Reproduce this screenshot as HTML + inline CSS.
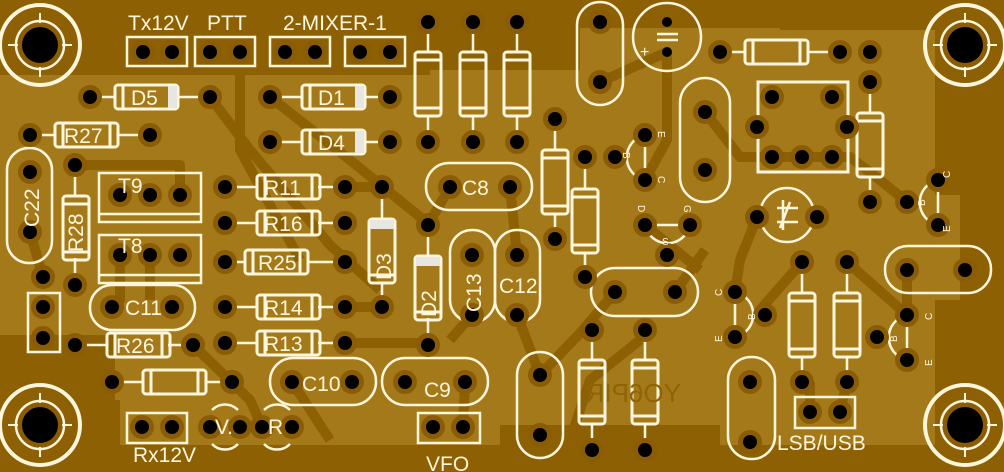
<!DOCTYPE html>
<html><head><meta charset="utf-8">
<style>
html,body{margin:0;padding:0;background:#a47919;}
svg{display:block}
text{font-family:"Liberation Sans",sans-serif;fill:#fff6dc}
</style></head>
<body>
<svg width="1004" height="472" viewBox="0 0 1004 472" xmlns="http://www.w3.org/2000/svg">
<defs>
<g id="p"><circle r="12" fill="#8a5c05"/><circle r="7" fill="#000"/></g>
<g id="sp"><circle r="5" fill="#000"/></g>
<g id="hole"><circle r="40" fill="none" stroke="#fff6dc" stroke-width="4"/><circle r="24" fill="#8a5c05" stroke="#fff6dc" stroke-width="2.5"/><circle r="18" fill="#000"/>
<path d="M0 -32V-22M0 22V32M-32 0H-22M22 0H32" stroke="#fff6dc" stroke-width="2"/></g>
<g id="rh"><rect x="0" y="0" width="63" height="24" rx="3" fill="none" stroke="#fff6dc" stroke-width="3"/><path d="M8 0V24M55 0V24" stroke="#fff6dc" stroke-width="3"/></g>
<g id="rv"><rect x="0" y="0" width="26" height="64" rx="3" fill="none" stroke="#fff6dc" stroke-width="3"/><path d="M0 8H26M0 56H26" stroke="#fff6dc" stroke-width="3"/></g>
</defs>
<rect width="1004" height="472" fill="#a47919"/>
<path d="M0 0H560V10H580V70H430V75H0Z" fill="#8d6003"/>
<path d="M560 0H1004V225H935V30H780V28H560Z" fill="#8d6003"/>
<path d="M935 130H1004V472H935Z" fill="#8d6003"/>
<path d="M0 335H115V400H120V472H0Z" fill="#8d6003"/>
<path d="M0 445H1004V472H0Z" fill="#8d6003"/>
<path d="M500 425H720V472H500Z" fill="#8d6003"/>
<path d="M935 195H960V300H930Z" fill="#a47919"/>
<g stroke="#8d6003" stroke-width="10" fill="none" stroke-linejoin="round">
<path d="M210 97L250 150L330 245L380 290"/><path d="M240 52V150L300 260"/>
<path d="M75 165H180V195"/><path d="M270 97L350 160L430 225"/>
<path d="M150 255V300M120 255V300L112 307"/><path d="M30 232L43 277"/>
<path d="M342 187L380 187"/><path d="M342 307H383"/><path d="M342 343H428"/>
<path d="M472 315L450 340"/><path d="M517 315L540 375"/><path d="M510 187L517 255"/>
<path d="M450 187L428 225"/><path d="M600 82L667 52"/><path d="M667 52V140L645 180"/>
<path d="M705 112L740 157H850L880 180L907 202"/><path d="M645 225L700 270"/>
<path d="M757 217L740 260L735 292"/><path d="M802 262L760 310"/><path d="M847 262L907 315"/>
<path d="M540 375L583 330L615 292"/><path d="M675 292L705 250"/>
<path d="M810 382V412M847 382L840 412"/><path d="M907 270V315"/>
<path d="M193 345L250 400L262 427"/><path d="M292 382L330 440"/><path d="M465 382L463 427"/>
<path d="M570 440L590 380L640 340"/>
</g>
<use href="#hole" x="40" y="45"/><use href="#hole" x="965" y="45"/>
<use href="#hole" x="40" y="425"/><use href="#hole" x="965" y="425"/>
<g fill="none" stroke="#fff6dc" stroke-width="2.5">
<rect x="127" y="37" width="60" height="29"/><rect x="195" y="37" width="60" height="29"/>
<rect x="270" y="37" width="60" height="29"/><rect x="345" y="37" width="60" height="29"/>
<rect x="28" y="293" width="32" height="59"/>
<rect x="127" y="413" width="60" height="30"/><rect x="418" y="413" width="62" height="30"/>
<rect x="795" y="397" width="60" height="31"/>
<rect x="99" y="173" width="102" height="49"/><path d="M99 214H201"/>
<rect x="99" y="235" width="102" height="48"/><path d="M99 275H201"/>
<rect x="7" y="148" width="45" height="115" rx="22"/>
<rect x="90" y="285" width="105" height="45" rx="22"/>
<rect x="270" y="358" width="106" height="47" rx="23"/>
<rect x="382" y="358" width="106" height="47" rx="23"/>
<rect x="426" y="163" width="106" height="47" rx="23"/>
<rect x="450" y="230" width="45" height="92" rx="22"/>
<rect x="495" y="230" width="45" height="92" rx="22"/>
<rect x="591" y="268" width="107" height="48" rx="24"/>
<rect x="577" y="2" width="46" height="103" rx="23"/>
<rect x="680" y="78" width="50" height="124" rx="25"/>
<rect x="517" y="352" width="46" height="106" rx="23"/>
<rect x="728" y="357" width="47" height="102" rx="23"/>
<rect x="885" y="246" width="106" height="47" rx="23"/>
<circle cx="667" cy="37" r="34"/>
<circle cx="787" cy="215" r="27"/>
<rect x="758" y="82" width="90" height="90" stroke-width="3"/>
<path d="M645 135A23 23 0 0 0 645 180M645 135V180"/>
<path d="M938 180A23 23 0 0 0 938 225M938 180V225"/>
<path d="M735 292A23 23 0 0 1 735 337M735 292V337"/>
<path d="M907 315A23 23 0 0 0 907 360M907 315V360"/>
<path d="M645 225A23 23 0 0 0 690 225M645 225H690"/>
<path d="M212 410A18 18 0 0 1 238 410M212 444A18 18 0 0 0 238 444"/>
<path d="M264 410A18 18 0 0 1 290 410M264 444A18 18 0 0 0 290 444"/>
<path d="M657 34H678M657 40H678M790 202L780 228M777 208H798M777 222H798M783 200V230"/>
<path d="M90 97H115M178 97H210M270 97H302M363 97H390M270 142H302M363 142H390M30 135H55M118 135H150"/>
<path d="M225 187H257M318 187H345M225 223H257M318 223H345M225 262H245M307 262H345M225 307H257M318 307H345M225 343H257M318 343H345"/>
<path d="M75 345H107M168 345H193M112 382H143M205 382H232M720 52H745M808 52H840"/>
<path d="M75 165V197M75 258V285M382 187V220M382 282V307M428 225V258M428 318V345"/>
<path d="M428 22V52M428 116V142M473 22V52M473 116V142M517 22V52M517 116V142"/>
<path d="M555 119V150M555 213V239M585 157V190M585 252V277M870 82V113M870 176V202"/>
<path d="M592 330V360M592 424V450M645 330V360M645 424V450M802 262V293M802 357V382M847 262V293M847 357V382"/>
</g>
<use href="#rh" x="115" y="85"/><use href="#rh" x="302" y="85"/><use href="#rh" x="302" y="130"/>
<use href="#rh" x="55" y="123"/><use href="#rh" x="257" y="175"/><use href="#rh" x="257" y="211"/>
<use href="#rh" x="245" y="250"/><use href="#rh" x="257" y="295"/><use href="#rh" x="257" y="331"/>
<use href="#rh" x="107" y="333"/><use href="#rh" x="143" y="370"/><use href="#rh" x="745" y="40"/>
<use href="#rv" x="63" y="196"/><use href="#rv" x="369" y="219"/><use href="#rv" x="415" y="256"/>
<use href="#rv" x="415" y="52"/><use href="#rv" x="460" y="52"/><use href="#rv" x="504" y="52"/>
<use href="#rv" x="542" y="150"/><use href="#rv" x="572" y="189"/><use href="#rv" x="857" y="113"/>
<use href="#rv" x="579" y="360"/><use href="#rv" x="632" y="360"/><use href="#rv" x="789" y="293"/><use href="#rv" x="834" y="293"/>
<g fill="#e8e6e0"><rect x="168" y="86" width="9" height="22"/><rect x="355" y="86" width="9" height="22"/><rect x="355" y="131" width="9" height="22"/>
<rect x="370" y="220" width="24" height="9"/><rect x="416" y="257" width="24" height="9"/></g>
<g>
<use href="#p" x="143" y="52"/><use href="#p" x="172" y="52"/><use href="#p" x="210" y="52"/><use href="#p" x="240" y="52"/>
<use href="#p" x="285" y="52"/><use href="#p" x="315" y="52"/><use href="#p" x="360" y="52"/><use href="#p" x="390" y="52"/>
<use href="#p" x="90" y="97"/><use href="#p" x="210" y="97"/><use href="#p" x="270" y="97"/><use href="#p" x="390" y="97"/>
<use href="#p" x="270" y="142"/><use href="#p" x="390" y="142"/><use href="#p" x="30" y="135"/><use href="#p" x="150" y="135"/>
<use href="#p" x="30" y="172"/><use href="#p" x="30" y="232"/><use href="#p" x="75" y="165"/><use href="#p" x="75" y="285"/><use href="#p" x="43" y="277"/>
<use href="#p" x="120" y="195"/><use href="#p" x="150" y="195"/><use href="#p" x="180" y="195"/>
<use href="#p" x="120" y="255"/><use href="#p" x="150" y="255"/><use href="#p" x="180" y="255"/>
<use href="#p" x="225" y="187"/><use href="#p" x="345" y="187"/><use href="#p" x="225" y="223"/><use href="#p" x="345" y="223"/>
<use href="#p" x="225" y="262"/><use href="#p" x="345" y="262"/><use href="#p" x="225" y="307"/><use href="#p" x="345" y="307"/>
<use href="#p" x="225" y="343"/><use href="#p" x="345" y="343"/><use href="#p" x="382" y="187"/><use href="#p" x="382" y="307"/>
<use href="#p" x="428" y="225"/><use href="#p" x="428" y="345"/>
<use href="#p" x="43" y="307"/><use href="#p" x="43" y="338"/><use href="#p" x="112" y="307"/><use href="#p" x="172" y="307"/>
<use href="#p" x="75" y="345"/><use href="#p" x="193" y="345"/><use href="#p" x="112" y="382"/><use href="#p" x="232" y="382"/>
<use href="#p" x="142" y="427"/><use href="#p" x="172" y="427"/><use href="#p" x="210" y="427"/><use href="#p" x="240" y="427"/>
<use href="#p" x="262" y="427"/><use href="#p" x="292" y="427"/><use href="#p" x="292" y="382"/><use href="#p" x="352" y="382"/>
<use href="#p" x="405" y="382"/><use href="#p" x="465" y="382"/><use href="#p" x="433" y="427"/><use href="#p" x="463" y="427"/>
<use href="#p" x="450" y="187"/><use href="#p" x="510" y="187"/><use href="#p" x="472" y="255"/><use href="#p" x="472" y="315"/>
<use href="#p" x="517" y="255"/><use href="#p" x="517" y="315"/>
<use href="#p" x="428" y="22"/><use href="#p" x="473" y="22"/><use href="#p" x="517" y="22"/>
<use href="#p" x="428" y="142"/><use href="#p" x="473" y="142"/><use href="#p" x="517" y="142"/>
<use href="#p" x="555" y="119"/><use href="#p" x="555" y="239"/><use href="#p" x="585" y="157"/><use href="#p" x="585" y="277"/>
<use href="#p" x="600" y="22"/><use href="#p" x="600" y="82"/><use href="#sp" x="667" y="22"/><use href="#sp" x="667" y="52"/>
<use href="#p" x="645" y="135"/><use href="#p" x="615" y="157"/><use href="#p" x="645" y="180"/>
<use href="#p" x="705" y="112"/><use href="#p" x="705" y="170"/>
<use href="#p" x="720" y="52"/><use href="#p" x="840" y="52"/><use href="#p" x="870" y="52"/><use href="#p" x="870" y="82"/><use href="#p" x="870" y="202"/>
<use href="#p" x="772" y="97"/><use href="#p" x="832" y="97"/><use href="#p" x="757" y="127"/><use href="#p" x="847" y="127"/>
<use href="#p" x="772" y="157"/><use href="#p" x="802" y="157"/><use href="#p" x="832" y="157"/>
<use href="#p" x="938" y="180"/><use href="#p" x="907" y="202"/><use href="#p" x="938" y="225"/>
<use href="#p" x="757" y="217"/><use href="#p" x="817" y="217"/>
<use href="#p" x="645" y="225"/><use href="#p" x="690" y="225"/><use href="#p" x="667" y="255"/>
<use href="#p" x="615" y="292"/><use href="#p" x="675" y="292"/><use href="#p" x="592" y="330"/><use href="#p" x="645" y="330"/>
<use href="#p" x="592" y="450"/><use href="#p" x="645" y="450"/><use href="#p" x="540" y="375"/><use href="#p" x="540" y="435"/>
<use href="#p" x="735" y="292"/><use href="#p" x="765" y="315"/><use href="#p" x="735" y="337"/>
<use href="#p" x="802" y="262"/><use href="#p" x="847" y="262"/><use href="#p" x="802" y="382"/><use href="#p" x="847" y="382"/>
<use href="#p" x="750" y="382"/><use href="#p" x="750" y="442"/><use href="#p" x="810" y="412"/><use href="#p" x="840" y="412"/>
<use href="#p" x="907" y="270"/><use href="#p" x="965" y="270"/>
<use href="#p" x="907" y="315"/><use href="#p" x="877" y="337"/><use href="#p" x="907" y="360"/>
</g>
<g font-size="21">
<text x="128" y="30">Tx12V</text><text x="207" y="30">PTT</text><text x="283" y="30">2-MIXER-1</text>
<text x="131" y="105">D5</text><text x="318" y="105">D1</text><text x="318" y="150">D4</text>
<text x="64" y="143">R27</text><text x="264" y="195">R11</text><text x="264" y="231">R16</text><text x="258" y="270">R25</text>
<text x="264" y="315">R14</text><text x="264" y="351">R13</text><text x="116" y="353">R26</text>
<text x="118" y="193">T9</text><text x="118" y="253">T8</text><text x="125" y="315">C11</text>
<text x="302" y="391">C10</text><text x="424" y="397">C9</text><text x="462" y="195">C8</text><text x="499" y="293">C12</text>
<text x="133" y="462">Rx12V</text><text x="426" y="471">VFO</text><text x="777" y="450">LSB/USB</text>
<text x="215" y="434">V.</text><text x="268" y="434">R</text>
<text transform="translate(39 227) rotate(-90)">C22</text><text transform="translate(83 252) rotate(-90)">R28</text>
<text transform="translate(391 280) rotate(-90)">D3</text><text transform="translate(436 317) rotate(-90)">D2</text>
<text transform="translate(481 312) rotate(-90)">C13</text>
<text transform="translate(681 402) scale(-1 1)" style="fill:#8f6306" font-size="26">YO6PIR</text>
</g>
<g font-size="10">
<text transform="translate(658 131) rotate(90)">E</text><text transform="translate(623 152) rotate(90)">B</text><text transform="translate(658 176) rotate(90)">C</text>
<text transform="translate(638 205) rotate(90)">D</text><text transform="translate(684 205) rotate(90)">G</text><text x="662" y="245">S</text>
<text transform="translate(950 178) rotate(-90)">C</text><text transform="translate(925 206) rotate(-90)">B</text><text transform="translate(950 232) rotate(-90)">E</text>
<text transform="translate(722 296) rotate(-90)">C</text><text transform="translate(755 320) rotate(-90)">B</text><text transform="translate(722 342) rotate(-90)">E</text>
<text transform="translate(932 320) rotate(-90)">C</text><text transform="translate(897 342) rotate(-90)">B</text><text transform="translate(932 366) rotate(-90)">E</text>
<text x="640" y="57" font-size="16">+</text>
</g>
</svg>
</body></html>
